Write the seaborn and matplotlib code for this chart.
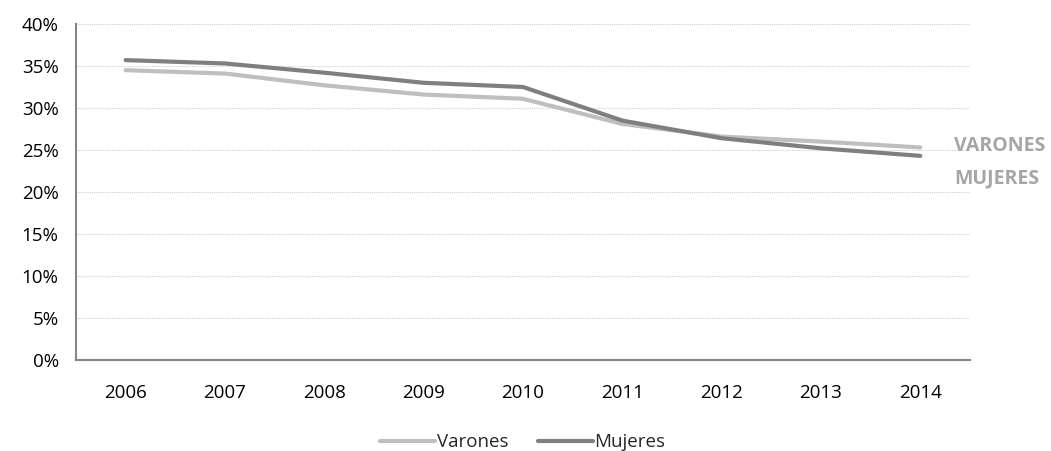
import pandas as pd
import numpy as np
import matplotlib.pyplot as plt
import seaborn as sns
from matplotlib.ticker import FixedLocator, PercentFormatter

years = [2006, 2007, 2008, 2009, 2010, 2011, 2012, 2013, 2014]
varones = [34.5, 34.1, 32.7, 31.6, 31.1, 28.1, 26.6, 26.0, 25.3]
mujeres = [35.7, 35.3, 34.2, 33.0, 32.5, 28.5, 26.4, 25.2, 24.3]

df = pd.DataFrame({
    'Año': years * 2,
    'Valor': varones + mujeres,
    'Sexo': ['Varones'] * len(years) + ['Mujeres'] * len(years),
})

sns.set_style('white')
plt.rcParams['font.family'] = ['Open Sans', 'DejaVu Sans']

fig = plt.figure(figsize=(10.51, 4.51), dpi=100)
ax = fig.add_axes([0.0723, 0.2018, 0.8506, 0.745])

palette = {'Varones': '#bfbfbf', 'Mujeres': '#7f7f7f'}
sns.lineplot(data=df, x='Año', y='Valor', hue='Sexo', palette=palette,
             linewidth=3.0, ax=ax, legend=True, solid_capstyle='round',
             solid_joinstyle='round')

ax.set_xlim(2005.5, 2014.5)
ax.set_ylim(0, 40)
ax.set_yticks(range(0, 41, 5))
ax.yaxis.set_major_formatter(PercentFormatter(decimals=0))
ax.set_xticks(years)
ax.set_xticklabels([str(y) for y in years])
ax.xaxis.set_minor_locator(FixedLocator(np.arange(2005.5, 2015, 1)))
ax.tick_params(axis='x', which='major', length=0, pad=17, labelsize=13.5, labelcolor='black')
ax.tick_params(axis='x', which='minor', length=4.5, color='#868686', width=1, direction='out')
ax.tick_params(axis='y', length=4.5, color='#868686', width=1.5, direction='out', pad=8,
               labelsize=13.5, labelcolor='black')

ax.grid(axis='y', color='#d0d0d0', linestyle=(0, (1, 1)), linewidth=0.8)
ax.set_axisbelow(True)
for s in ['top', 'right']:
    ax.spines[s].set_visible(False)
for s in ['left', 'bottom']:
    ax.spines[s].set_color('#868686')
    ax.spines[s].set_linewidth(1.5)
ax.set_xlabel('')
ax.set_ylabel('')

# etiquetas de serie a la derecha
ax.text(0.982, 25.5 / 40, 'VARONES', transform=ax.transAxes, fontsize=14, fontweight='bold',
        color='#a6a6a6', va='center', ha='left')
ax.text(0.982, 21.6 / 40, 'MUJERES', transform=ax.transAxes, fontsize=14, fontweight='bold',
        color='#a6a6a6', va='center', ha='left')

handles, labels = ax.get_legend_handles_labels()
ax.legend(handles, labels, loc='center', bbox_to_anchor=(0.5, -0.245), ncol=2, frameon=False,
          fontsize=13.5, handlelength=2.9, handletextpad=0.1, columnspacing=1.6)

fig.savefig('out.png', dpi=100)
